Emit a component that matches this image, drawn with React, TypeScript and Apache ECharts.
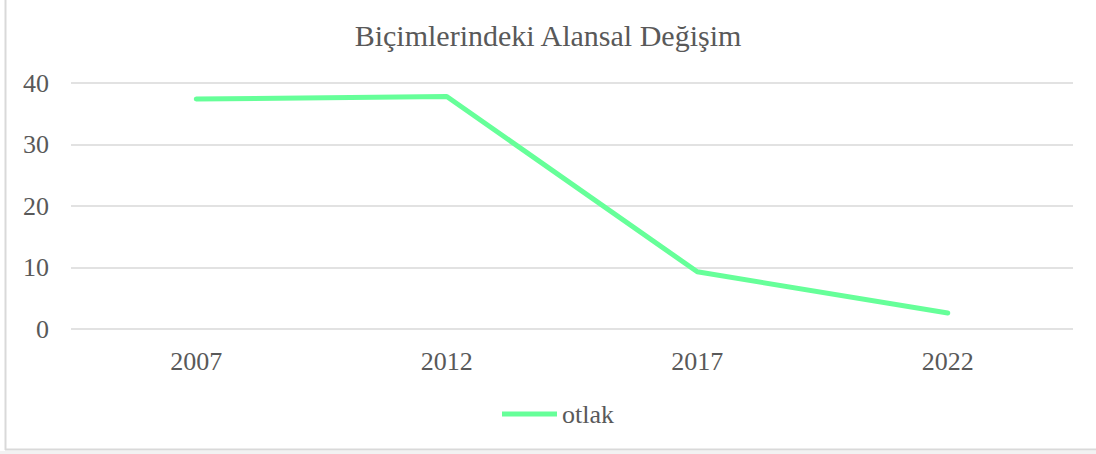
import React, { useEffect, useRef } from "react";
import * as echarts from "echarts";

const categories = ["2007", "2012", "2017", "2022"];
const otlakValues = [37.4, 37.8, 9.3, 2.6];
const seriesName = "otlak";
const titleText = "Biçimlerindeki Alansal Değişim";

const FONT = "Liberation Serif";
const TEXT = "#595959";

export default function App() {
  const ref = useRef<HTMLDivElement>(null);
  useEffect(() => {
    if (!ref.current) return;
    const chart = echarts.init(ref.current, null, { renderer: "svg" });
    chart.setOption({
      animation: false,
      backgroundColor: "#ffffff",
      title: {
        text: titleText,
        left: "center",
        top: 15,
        textStyle: { fontFamily: FONT, fontSize: 30, fontWeight: "normal", color: TEXT },
      },
      grid: { left: 71, right: 23, top: 83, bottom: 125 },
      xAxis: {
        type: "category",
        data: categories,
        boundaryGap: true,
        axisLine: { show: false },
        axisTick: { show: false },
        axisLabel: { fontFamily: FONT, fontSize: 26, color: TEXT, margin: 19 },
      },
      yAxis: {
        type: "value",
        min: 0,
        max: 40,
        interval: 10,
        axisLine: { show: false },
        axisTick: { show: false },
        axisLabel: { fontFamily: FONT, fontSize: 26, color: TEXT, margin: 22 },
        splitLine: { lineStyle: { color: "#d9d9d9", width: 1.5 } },
      },
      legend: {
        bottom: 22,
        left: 497,
        itemWidth: 55,
        itemHeight: 5,
        itemGap: 10,
        textStyle: { fontFamily: FONT, fontSize: 26, color: TEXT },
        data: [{ name: seriesName, icon: "path://M0,0 L55,0 L55,5 L0,5 Z" }],
      },
      series: [
        {
          name: seriesName,
          type: "line",
          data: otlakValues,
          symbol: "none",
          lineStyle: { color: "#66ff99", width: 5, cap: "round", join: "round" },
          itemStyle: { color: "#66ff99" },
        },
      ],
      graphic: [
        { type: "line", shape: { x1: 5.5, y1: 0, x2: 5.5, y2: 450 }, style: { stroke: "#d9d9d9", lineWidth: 2 } },
        { type: "line", shape: { x1: 5, y1: 449.5, x2: 1096, y2: 449.5 }, style: { stroke: "#d9d9d9", lineWidth: 2 } },
        { type: "rect", shape: { x: 0, y: 451, width: 1096, height: 3 }, style: { fill: "#f2f2f2" } },
      ],
    });
    return () => chart.dispose();
  }, []);
  return (
    <div
      ref={ref}
      style={{ position: "fixed", left: 0, top: 0, width: 1096, height: 454 }}
    />
  );
}
